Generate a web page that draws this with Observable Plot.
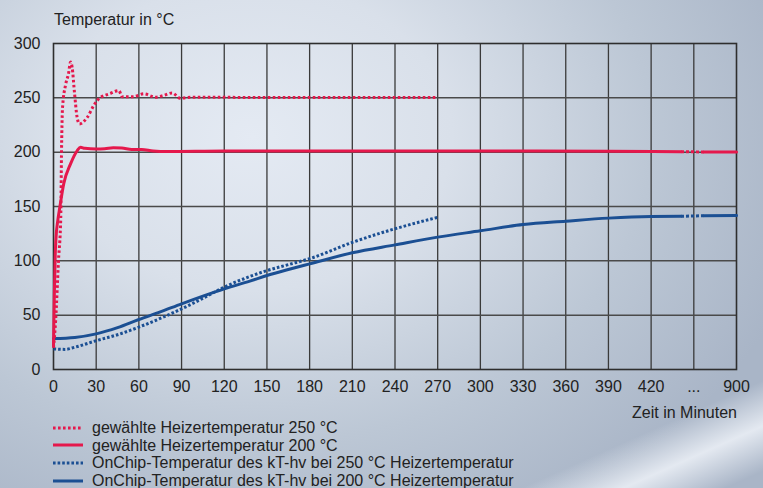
<!DOCTYPE html>
<html>
<head>
<meta charset="utf-8">
<script src="https://cdn.jsdelivr.net/npm/d3@7"></script>
<script src="https://cdn.jsdelivr.net/npm/@observablehq/plot@0.6"></script>
<style>
  html, body { margin: 0; padding: 0; }
  #wrap {
    position: relative; width: 763px; height: 488px; overflow: hidden;
    font-family: "Liberation Sans", Arial, sans-serif; color: #222;
    background:
      linear-gradient(156deg, rgba(240,244,250,0) 0%, rgba(240,244,250,0) 87%, rgba(238,242,248,0.85) 92.5%, rgba(240,244,250,0) 98%),
      radial-gradient(ellipse 75% 90% at 33% 28%, #e4eaf3 0%, #d9e0ea 35%, #bcc7d5 70%, #a9b5c7 100%);
  }
  #chart { position: absolute; left: 0; top: 0; }
  .txt { position: absolute; font-size: 16px; line-height: 16px; white-space: nowrap; }
  #legend { position: absolute; left: 53px; top: 419px; font-size: 16px; line-height: 17.6px; }
  #legend .row { display: flex; align-items: center; height: 17.6px; }
  #legend svg { width: 30px; height: 6px; margin-right: 9px; }
</style>
</head>
<body>
<div id="wrap">
  <div id="chart"></div>
  <div class="txt" style="left:54px; top:11.5px;">Temperatur in °C</div>
  <div class="txt" style="right:26px; top:405px;">Zeit in Minuten</div>
  <div id="legend"></div>
</div>
<script>
// ---- data (time in minutes, temperature in °C) ----
const heat250T = [0, 1.5, 3.5, 5.1, 5.6, 6.3, 8.5, 10.5, 12, 13.1, 14.8, 16.6, 18.3, 23.7, 28.3, 31.8, 40, 45.9, 48.3, 56, 63.5, 71.7, 77, 83.4, 89, 97.5, 150, 200, 270];
const heat250V = [20, 45, 100, 140, 197, 240, 262, 272, 283, 278, 254, 232, 226, 232, 243, 249, 254, 256.7, 251, 251, 253.7, 250.6, 252, 254.5, 249.7, 250.6, 250.3, 250.3, 250.3];

const heat200T = [0, 0.6, 1.2, 1.7, 3, 4.4, 7.2, 11.9, 16.7, 19, 22, 30, 36, 42, 48, 55, 62, 70, 80, 120, 200, 300, 390, 441];
const heat200V = [22, 70, 105, 120, 137, 149, 171, 189, 201.5, 204.6, 203.5, 203, 203.2, 204, 203.8, 202.5, 202.5, 201, 200.5, 201, 201, 201, 200.8, 200.4];
const heat200TailT = [555, 900];
const heat200TailV = [200.2, 200.2];

const chip250T = [0, 8, 15, 30, 45, 60, 75, 90, 105, 120, 138, 150, 165, 180, 210, 240, 270];
const chip250V = [19, 18.5, 20.5, 26.5, 32, 39, 47, 55.8, 65.5, 75.8, 85.6, 91, 96.5, 102, 117, 129.5, 140];

const chip200T = [0, 15, 30, 45, 60, 75, 90, 105, 120, 138, 150, 165, 180, 210, 240, 270, 300, 330, 360, 390, 420, 441];
const chip200V = [28.5, 29.5, 32.8, 38.5, 46, 53, 60.4, 67.5, 74.2, 81.3, 86.5, 92, 97.2, 107.4, 114.7, 121.8, 127.6, 133.4, 136.5, 139.3, 140.8, 141];
const chip200TailT = [555, 900];
const chip200TailV = [141.5, 141.7];

// axis ticks (axis has a break between 420 and 900)
const xTickPos = [0, 30, 60, 90, 120, 150, 180, 210, 240, 270, 300, 330, 360, 390, 420, 450, 480];
const xTickLabels = ["0", "30", "60", "90", "120", "150", "180", "210", "240", "270", "300", "330", "360", "390", "420", "...", "900"];
const yTicks = [0, 50, 100, 150, 200, 250, 300];

const legendLabels = [
  "gewählte Heizertemperatur 250 °C",
  "gewählte Heizertemperatur 200 °C",
  "OnChip-Temperatur des kT-hv bei 250 °C Heizertemperatur",
  "OnChip-Temperatur des kT-hv bei 200 °C Heizertemperatur"
];

// ---- build ----
const RED = "#e5184c", BLUE = "#1b4f93";
const pos = t => (t <= 450 ? t : 450 + (t - 450) / 15); // broken time axis
const rec = (T, V) => T.map((t, i) => ({t, v: V[i]}));
const h250 = rec(heat250T, heat250V);
const h200 = rec(heat200T, heat200V);
const h200tail = rec(heat200TailT, heat200TailV);
const h200gap = [h200[h200.length - 1], h200tail[0]];
const c250 = rec(chip250T, chip250V);
const c200 = rec(chip200T, chip200V);
const c200tail = rec(chip200TailT, chip200TailV);
const c200gap = [c200[c200.length - 1], c200tail[0]];
const labelMap = new Map(xTickPos.map((p, i) => [p, xTickLabels[i]]));

const lineOpts = (stroke, dash, w = 3) => ({
  x: d => pos(d.t), y: "v", stroke, strokeWidth: w,
  strokeDasharray: dash, strokeLinecap: dash ? "butt" : "round",
  curve: "monotone-x"
});

const chart = Plot.plot({
  width: 763, height: 400,
  marginLeft: 53, marginRight: 27, marginTop: 43, marginBottom: 31,
  style: {background: "transparent", fontFamily: "'Liberation Sans', Arial, sans-serif", fontSize: "16px", color: "#222", overflow: "visible"},
  x: {domain: [0, 480], ticks: xTickPos, tickFormat: d => labelMap.get(d), tickSize: 0, tickPadding: 11, label: null},
  y: {domain: [0, 300], ticks: yTicks, tickSize: 0, tickPadding: 13, label: null},
  marks: [
    Plot.ruleX(xTickPos.slice(1, -1), {stroke: "#3a3a3a", strokeWidth: 1.3}),
    Plot.ruleY(yTicks.slice(1, -1), {stroke: "#4a4a4a", strokeWidth: 1.5}),
    Plot.frame({stroke: "#2e2e2e", strokeWidth: 1.6}),
    Plot.line(c250, lineOpts(BLUE, "2.6,2")),
    Plot.line(c200, lineOpts(BLUE, null)),
    Plot.line(c200gap, lineOpts(BLUE, "3,2")),
    Plot.line(c200tail, lineOpts(BLUE, null)),
    Plot.line(h250, lineOpts(RED, "2.6,2.4")),
    Plot.line(h200, lineOpts(RED, null)),
    Plot.line(h200gap, lineOpts(RED, "3,2")),
    Plot.line(h200tail, lineOpts(RED, null))
  ]
});
document.getElementById("chart").appendChild(chart);

// ---- legend ----
const legendStyles = [[RED, "2.6,2.4"], [RED, null], [BLUE, "2.6,2"], [BLUE, null]];
const legend = document.getElementById("legend");
legendLabels.forEach((lab, i) => {
  const [c, dash] = legendStyles[i];
  const row = document.createElement("div");
  row.className = "row";
  row.innerHTML = `<svg viewBox="0 0 30 6"><line x1="0" y1="3" x2="30" y2="3" stroke="${c}" stroke-width="3" ${dash ? `stroke-dasharray="${dash}"` : ""}/></svg><span></span>`;
  row.querySelector("span").textContent = lab;
  legend.appendChild(row);
});
</script>
</body>
</html>
